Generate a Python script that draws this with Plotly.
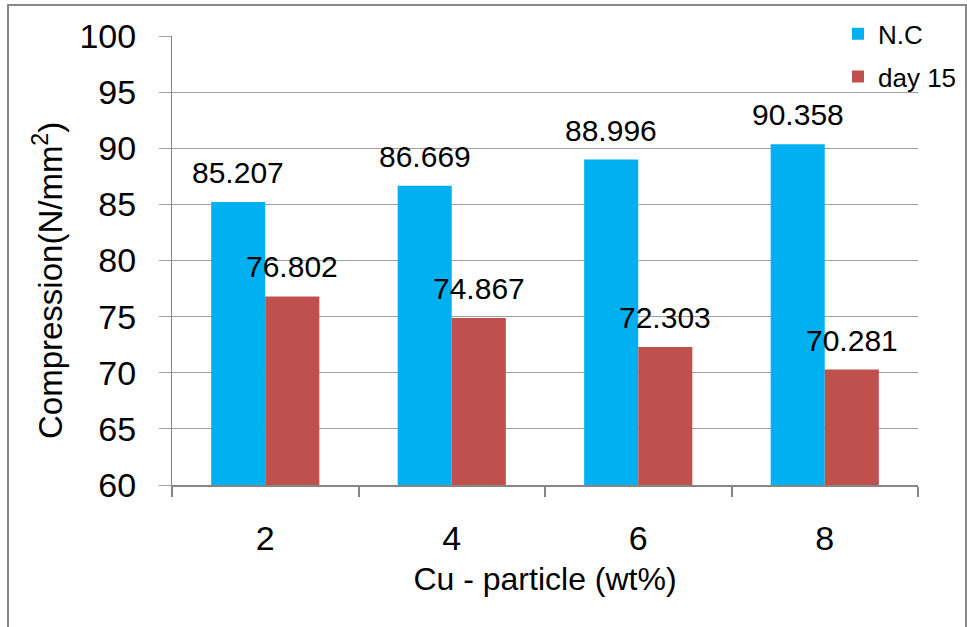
import plotly.graph_objects as go

categories = ["2", "4", "6", "8"]
nc_values = [85.207, 86.669, 88.996, 90.358]
day15_values = [76.802, 74.867, 72.303, 70.281]
series_names = ["N.C", "day 15"]
colors = ["#00B0F0", "#C0504D"]
y_ticks = [60, 65, 70, 75, 80, 85, 90, 95, 100]
y_title = "Compression(N/mm<sup>2</sup>)"
x_title = "Cu - particle (wt%)"

FONT = "Liberation Sans, Arial, sans-serif"
BARGAP = 0.42
L, R, T, B = 172, 49, 36, 142
PW, PH = 967 - L - R, 627 - T - B

fig = go.Figure()
for i, (name, vals) in enumerate(zip(series_names, [nc_values, day15_values])):
    fig.add_trace(go.Bar(
        x=categories, y=vals, name=name, marker=dict(color=colors[i], line=dict(width=0)),
        legendgroup=name,
    ))

off = (1 - BARGAP) / 4
annotations = []
for i, vals in enumerate([nc_values, day15_values]):
    sign = -1 if i == 0 else 1
    for j, v in enumerate(vals):
        annotations.append(dict(
            x=j + sign * off, y=v, xref="x", yref="y", text=f"{v:.3f}",
            showarrow=False, yanchor="bottom", xanchor="center", yshift=11,
            font=dict(family=FONT, size=30, color="#000000"),
        ))

annotations.append(dict(
    x=(48 - L) / PW, y=(T + PH - 281) / PH, xref="paper", yref="paper",
    text=y_title, textangle=-90, showarrow=False, xanchor="center", yanchor="middle",
    font=dict(family=FONT, size=33, color="#000000"),
))

fig.update_layout(
    width=967, height=627,
    margin=dict(l=L, r=R, t=T, b=B, autoexpand=False),
    paper_bgcolor="white", plot_bgcolor="white",
    barmode="group", bargap=BARGAP, bargroupgap=0,
    font=dict(family=FONT, color="#000000"),
    showlegend=True,
    legend=dict(
        x=(838 - L) / PW, y=1.057, xanchor="left", yanchor="top",
        font=dict(family=FONT, size=26, color="#000000"),
        bgcolor="rgba(0,0,0,0)", borderwidth=0,
        tracegroupgap=6, traceorder="grouped",
    ),
    annotations=annotations,
    shapes=[dict(
        type="rect", xref="paper", yref="paper",
        x0=(8 - L) / PW, x1=(966 - L) / PW,
        y0=(T + PH - 640) / PH, y1=(T + PH - 5) / PH,
        line=dict(color="#898989", width=2), fillcolor="rgba(0,0,0,0)", layer="below",
    )],
)

fig.update_yaxes(
    range=[60, 100], tickvals=y_ticks, ticktext=[str(t) for t in y_ticks],
    showgrid=True, gridcolor="#a0a0a0", gridwidth=1,
    showline=True, linecolor="#868686", linewidth=1,
    ticks="outside", ticklen=12, tickcolor="#a0a0a0", tickwidth=1,
    ticklabelstandoff=16,
    tickfont=dict(family=FONT, size=34, color="#000000"),
    zeroline=False,
)
fig.update_xaxes(
    type="category", showgrid=False,
    showline=True, linecolor="#868686", linewidth=2,
    ticks="outside", tickson="boundaries", ticklen=10, tickcolor="#868686", tickwidth=2,
    ticklabelstandoff=22,
    tickfont=dict(family=FONT, size=34, color="#000000"),
    title=dict(text=x_title, font=dict(family=FONT, size=32, color="#000000"), standoff=12),
)

fig.write_html("out.html")
